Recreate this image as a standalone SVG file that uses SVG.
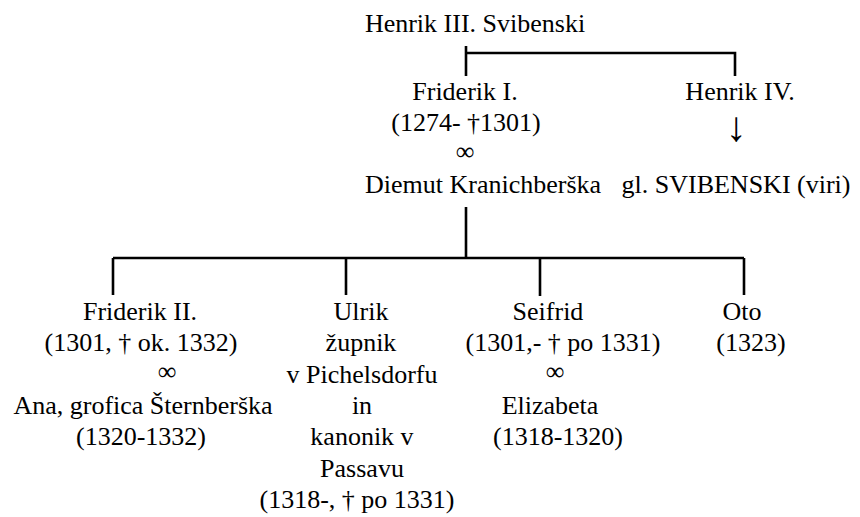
<svg xmlns="http://www.w3.org/2000/svg" width="860" height="517" viewBox="0 0 860 517" font-family="Liberation Serif, serif" font-size="26">
<style>
.t{font-family:"Liberation Serif",serif;font-size:26px;fill:#000;text-anchor:middle}
.arr{font-family:"Liberation Serif",serif;font-size:42px;fill:#000;text-anchor:middle}
.ln{stroke:#000;stroke-width:2.6;fill:none;stroke-linecap:butt}
</style>
<rect width="860" height="517" fill="#fff"/>
<g id="connectors">
<path class="ln" d="M466 46V76M466 53H735V76"/>
<path class="ln" d="M466 207V258M113 258H744M113 258V295M346 258V295M540 258V296M744 258V295"/>
</g>
<g id="henrik3"><text class="t" x="475" y="32">Henrik III. Svibenski</text></g>
<g id="friderik1">
<text class="t" x="465" y="100">Friderik I.</text>
<text class="t" x="466" y="131">(1274- †1301)</text>
<text class="t" x="465" y="160">∞</text>
<text class="t" x="483" y="193">Diemut Kranichberška</text>
</g>
<g id="henrik4">
<text class="t" x="740" y="100">Henrik IV.</text>
<text class="arr" x="736" y="141">↓</text>
<text class="t" x="736" y="193">gl. SVIBENSKI (viri)</text>
</g>
<g id="friderik2">
<text class="t" x="140" y="320">Friderik II.</text>
<text class="t" x="141" y="351">(1301, † ok. 1332)</text>
<text class="t" x="167" y="380">∞</text>
<text class="t" x="143" y="414">Ana, grofica Šternberška</text>
<text class="t" x="141" y="445">(1320-1332)</text>
</g>
<g id="ulrik">
<text class="t" x="361" y="320">Ulrik</text>
<text class="t" x="361" y="351">župnik</text>
<text class="t" x="362" y="383">v Pichelsdorfu</text>
<text class="t" x="362" y="414">in</text>
<text class="t" x="362" y="445">kanonik v</text>
<text class="t" x="362" y="477">Passavu</text>
<text class="t" x="357" y="508">(1318-, † po 1331)</text>
</g>
<g id="seifrid">
<text class="t" x="548" y="320">Seifrid</text>
<text class="t" x="563" y="351">(1301,- † po 1331)</text>
<text class="t" x="555" y="380">∞</text>
<text class="t" x="550" y="414">Elizabeta</text>
<text class="t" x="558" y="445">(1318-1320)</text>
</g>
<g id="oto">
<text class="t" x="742" y="320">Oto</text>
<text class="t" x="751" y="351">(1323)</text>
</g>
</svg>
